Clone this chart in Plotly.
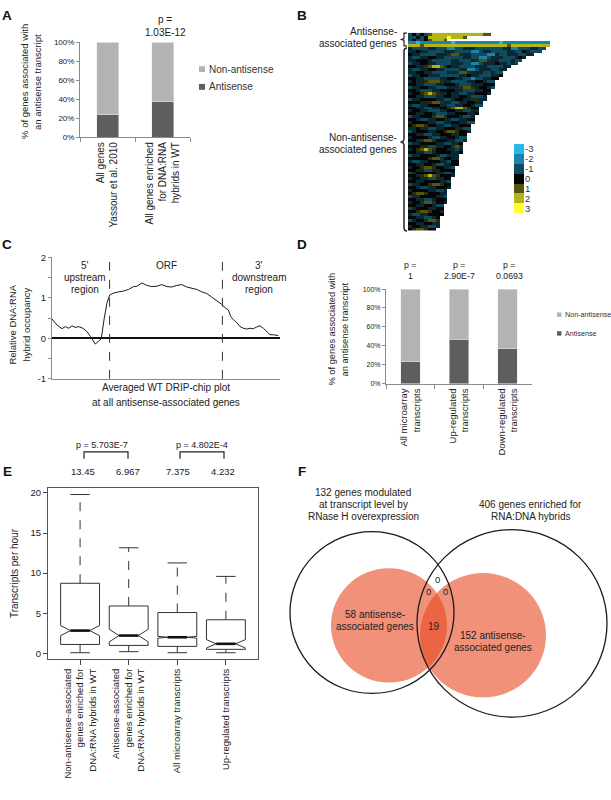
import plotly.graph_objects as go

W, H = 611, 800
FONT = "Liberation Sans, Arial, sans-serif"
TXT = "#222222"
LIGHT = "#B3B3B3"
DARK = "#5E5E5E"
AXIS = "#8A8A8A"

# panel A
a_cats = ["All genes<br>Yassour et al. 2010", "All genes enriched<br>for DNA:RNA<br>hybrids in WT"]
a_antisense = [0.236, 0.375]
a_pvalue = "1.03E-12"
key_labels = ["Non-antisense", "Antisense"]

# panel B: one string per gene row, codes below, spaces ignored
b_codes = {".": 0, "-": -0.5, "c": -1, "b": -2, "B": -3, "+": 0.5, "o": 1, "y": 2, "Y": 3}
b_rows = [
    "c.c.c oyyyy yyyyy yyyyo o",
    "cc.c. yyyyy Yyyyo",
    "c.cc. oyyyo",
    "bbBbb bbbbb bBbbb bbbbb bbbBb bbbbb bbbbb b",
    "yyyoy yyyyy yyyyy yyyyy yyyyy oyyyy yyyyy y",
    "-cccc --ccc bbcc- --ccc cccc- -bbcc c--cc",
    "--.-- cccc- --ccc cbbc- -cccc --cc. -ccc",
    ".--cc cc--- +oo+- -cccc bb-cc ---cc --",
    "-cc-- ..--c cccc- -ccbb c---c cc-.-",
    "--... -cccc c--cc c-+oo +--cc c-cc",
    "c--.. --ccc c---c cbbc- --.-- c-c",
    "..--+ oyyo+ .--cc cc--- cccc- -",
    "-cc-- ..--c ccc-- bbc-- -cc--",
    "--..- -cccc --+oo +---c c-cc",
    "c--.. ---cc ccc-- .--cc c--.",
    "..--c ccc-- ..--c cbcc- -..",
    "-.--+ ooo+- -cccc --..- cc",
    "..--c cc--. ..-cc c---. ..",
    "c--.. --ccc ---+o o+-.. -c",
    "..-cc c--.. ..--c cc--. .",
    "-..+o yo+-- .--cc --... -",
    "..--c cc--. .--.. -ccc-",
    "c--.. ..--c c-..- -++--",
    "...-- +oo+- -cc-- ..--",
    "-cc-- ...-- cc--. .-cc",
    "..--c c--.. +oyyo +..",
    "-..-- ccc-- ..--c c--",
    "..--. .-ccc --... --.",
    "c--.. .+oo+ ...-c c-",
    "..-cc --..- -cc-- ..",
    "-.... --cc- -..-- cc",
    ".+oo+ ..--c c--.. .",
    "--.-- cc--. ..--c c",
    "c-... --..+ oo+.. -",
    "..--c c--.. .--..",
    "-.... -cc-- ..-cc",
    "..-+o o+... --cc-",
    "c--.. ..--c c--.",
    "...-- cc--. .+o+",
    "-.+oy o+... --c-",
    "..--c c-... .--.",
    "c--.. ..-cc ---",
    "..... +oo+. .--",
    "-cc-- ...-- c..",
    "..--. .-cc- -..",
    "-..+o o+..- -c",
    "..--c c--.. ..",
    "c-... ..--c c-",
    "..-+o yo+.. .-",
    "-..-- cc--. .",
    "..--. ...-- c",
    "c--.. +oo+. .",
    "..-cc --... -",
    "-.... --cc-",
    ".+oo+ ...--",
    "c--.. ..--c",
    "..--c c-...",
    "-..+o o+..-",
    "..--. .-cc",
    "c-... --..",
    "..+oo +..-",
    "-cc-- ....",
    "..--c c-.",
    "c-..+ oo+",
    "..--. .--",
    "-..-- cc-",
    ".+oo+ ..",
]
b_levels = [-3, -2, -1, 0, 1, 2, 3]
b_colors = ["#2AB6E8", "#1B84AA", "#0F4B5F", "#050505", "#55550F", "#B4B41A", "#FFFF2E"]

# panel C: averaged profile, position along the metagene (arbitrary bins)
c_pos = [0, 15, 30, 40, 50, 60, 70, 80, 93, 105, 115, 125, 130, 140, 148, 157, 165, 173, 185, 200,
         215, 230, 245, 255, 270, 285, 300, 315, 330, 345, 360, 375, 390, 405, 420, 435, 450, 465, 480, 495,
         510, 520, 530, 537, 545, 555, 565, 575, 585, 595, 605, 615, 625, 635, 645, 655, 665, 680]
c_occ = [0.48, 0.33, 0.24, 0.29, 0.25, 0.31, 0.27, 0.29, 0.25, 0.17, 0.05, -0.07, -0.14, -0.07, -0.01, 0.50, 0.87, 1.07, 1.12, 1.15,
         1.17, 1.21, 1.28, 1.29, 1.37, 1.31, 1.28, 1.29, 1.33, 1.28, 1.27, 1.31, 1.33, 1.27, 1.24, 1.21, 1.15, 1.11, 1.02, 0.94,
         0.84, 0.76, 0.70, 0.54, 0.46, 0.39, 0.29, 0.25, 0.23, 0.25, 0.24, 0.28, 0.31, 0.25, 0.17, 0.09, 0.09, 0.07]
c_orf = [173, 512]

# panel D
d_cats = ["All microarray<br>transcripts", "Up-regulated<br>transcripts", "Down-regulated<br>transcripts"]
d_antisense = [0.231, 0.472, 0.372]
d_pvalues = ["1", "2.90E-7", "0.0693"]

# panel E
e_cats = ["Non-antisense-associated<br>genes enriched for<br>DNA:RNA hybrids in WT",
          "Antisense-associated<br>genes enriched for<br>DNA:RNA hybrids in WT",
          "All microarray transcripts", "Up-regulated transcripts"]
e_low = [0.07, 0.20, 0.07, 0.07]
e_q1 = [1.10, 0.98, 0.86, 0.49]
e_med = [2.83, 2.21, 2.00, 1.18]
e_q3 = [8.73, 5.90, 5.08, 4.18]
e_high = [19.8, 13.16, 11.27, 9.59]
e_notch = [0.63, 0.78, 0.11, 0.52]
e_means = ["13.45", "6.967", "7.375", "4.232"]
e_pvalues = ["p = 5.703E-7", "p = 4.802E-4"]

# panel F
f_set_left = ["132 genes modulated", "at transcript level by", "RNase H overexpression"]
f_set_right = ["406 genes enriched for", "RNA:DNA hybrids"]
f_left_only = ["58 antisense-", "associated genes"]
f_both = "19"
f_right_only = ["152 antisense-", "associated genes"]
f_zero = "0"


def dx(a, b):
    return [a / W, b / W]


def dy(top, bottom):
    return [1 - bottom / H, 1 - top / H]


fig = go.Figure()

# A
fig.add_trace(go.Bar(x=a_cats, y=a_antisense, name="Antisense", marker_color=DARK))
fig.add_trace(go.Bar(x=a_cats, y=[1 - v for v in a_antisense], name="Non-antisense", marker_color=LIGHT))

# B
b_cells = [[b_codes[ch] for ch in r.replace(" ", "")] for r in b_rows]
b_width = max(len(r) for r in b_cells)
b_z = [r + [None] * (b_width - len(r)) for r in b_cells]
heat_scale = [[(v + 3) / 6, c] for v, c in zip(b_levels, b_colors)]
fig.add_trace(go.Heatmap(z=b_z, x=list(range(b_width)), y=list(range(len(b_z))), colorscale=heat_scale,
                         zmin=-3, zmax=3, showscale=False, xaxis="x2", yaxis="y2", hoverinfo="skip"))
fig.add_trace(go.Heatmap(z=[[v] for v in b_levels], x=[0], y=b_levels, colorscale=heat_scale,
                         zmin=-3, zmax=3, showscale=False, xaxis="x3", yaxis="y3", hoverinfo="skip"))

# C
fig.add_trace(go.Scatter(x=c_pos, y=c_occ, mode="lines", line=dict(color="#1A1A1A", width=1),
                         xaxis="x4", yaxis="y4"))

# D
fig.add_trace(go.Bar(x=d_cats, y=d_antisense, name="Antisense", marker_color=DARK, xaxis="x5", yaxis="y5"))
fig.add_trace(go.Bar(x=d_cats, y=[1 - v for v in d_antisense], name="Non-antisense", marker_color=LIGHT,
                     xaxis="x5", yaxis="y5"))

# E
e_x = list(range(1, len(e_cats) + 1))
fig.add_trace(go.Box(x=e_x, q1=e_q1, median=e_med, q3=e_q3, lowerfence=e_q1, upperfence=e_q3,
                     notched=True, notchspan=e_notch, width=0.8, whiskerwidth=0, boxpoints=False,
                     fillcolor="white", line=dict(color="#333333", width=1),
                     xaxis="x6", yaxis="y6", hoverinfo="skip"))
wx, wy, cx, cy, mx, my = [], [], [], [], [], []
for p, lo, q1, m, q3, hi in zip(e_x, e_low, e_q1, e_med, e_q3, e_high):
    wx += [p, p, None, p, p, None]
    wy += [q3, hi, None, q1, lo, None]
    cx += [p - 0.2, p + 0.2, None, p - 0.2, p + 0.2, None]
    cy += [hi, hi, None, lo, lo, None]
    mx += [p - 0.2, p + 0.2, None]
    my += [m, m, None]
fig.add_trace(go.Scatter(x=wx, y=wy, mode="lines", line=dict(color="#333333", width=1, dash="dash"),
                         xaxis="x6", yaxis="y6", hoverinfo="skip"))
fig.add_trace(go.Scatter(x=cx, y=cy, mode="lines", line=dict(color="#333333", width=1),
                         xaxis="x6", yaxis="y6", hoverinfo="skip"))
fig.add_trace(go.Scatter(x=mx, y=my, mode="lines", line=dict(color="#111111", width=2.6),
                         xaxis="x6", yaxis="y6", hoverinfo="skip"))

# overlay axis in pixel units for text and drawings
fig.add_trace(go.Scatter(x=[], y=[], xaxis="x7", yaxis="y7"))

annotations = []
shapes = []


def note(x, y, text, size=10, angle=0, xanchor="center", bold=False, color=TXT):
    annotations.append(dict(x=x, y=y, xref="x7", yref="y7", text=f"<b>{text}</b>" if bold else text,
                            showarrow=False, textangle=angle, xanchor=xanchor, yanchor="middle",
                            font=dict(family=FONT, size=size, color=color)))


def block(x, y, lines, size=10, step=12.3, xanchor="center"):
    for k, line in enumerate(lines):
        note(x, y + k * step, line, size=size, xanchor=xanchor)


def vblock(x, y, lines, size=10, step=13):
    for k, line in enumerate(lines):
        note(x + k * step, y, line, size=size, angle=-90)


def key(x, y, box, size, step):
    for k, (lab, col) in enumerate(zip(key_labels, [LIGHT, DARK])):
        yc = y + k * step
        shapes.append(dict(type="rect", xref="x7", yref="y7", x0=x, x1=x + box, y0=yc - box / 2,
                           y1=yc + box / 2, fillcolor=col, line=dict(width=0)))
        note(x + box + 1.5, yc, lab, size=size, xanchor="left", color="#333333")


for lab, (x, y) in zip("ABCDEF", [(7, 10), (302, 10), (7, 242), (302, 242), (7, 472), (302, 472)]):
    note(x, y, lab, size=13.5, bold=True, color="#111111")

# A text
block(165, 14, ["p =", a_pvalue], size=10, step=13)
vblock(25, 77, ["% of genes associated with", "an antisense transcript"], size=9.5)
key(199, 64, 6, 10, 18)

# B text
block(399, 26, ["Antisense-", "associated genes"], xanchor="right")
block(399, 133, ["Non-antisense-", "associated genes"], xanchor="right")

# C text
block(85, 263, ["5'", "upstream", "region"])
note(166, 263, "ORF")
block(259, 263, ["3'", "downstream", "region"])
block(166, 387, ["Averaged WT DRIP-chip plot", "at all antisense-associated genes"], step=15)
vblock(13, 323, ["Relative DNA:RNA", "hybrid occupancy"], size=9.5, step=14)

# D text
for x, pv in zip([410, 459, 509], d_pvalues):
    block(x, 262.5, ["p =", pv], size=8.8, step=11)
vblock(332, 328, ["% of genes associated with", "an antisense transcript"], size=9.3)
key(557, 313, 4.5, 7.2, 19)

# E text
note(102, 445, e_pvalues[0], size=9)
note(202, 445, e_pvalues[1], size=9)
for x, v in zip([83, 128, 178, 223], e_means):
    note(x, 472, v, size=9.5)
vblock(14, 575, ["Transcripts per hour"], size=10)

# F text
block(363, 493, f_set_left)
block(530, 505, f_set_right)
block(375, 617, f_left_only)
note(434, 629, f_both)
block(493, 638, f_right_only)
note(437, 581, f_zero, size=9.5)
note(428, 594, f_zero, size=9.5)
note(445, 594, f_zero, size=9.5)

ink = dict(color="#222222", width=1.2)
# brackets in B
shapes.append(dict(type="path", xref="x7", yref="y7", line=ink,
                   path="M 407 27.5 L 404 27.5 L 404 33 L 401.5 34 L 404 35 L 404 40.5 L 407 40.5"))
shapes.append(dict(type="path", xref="x7", yref="y7", line=dict(color="#222222", width=1.5),
                   path="M 407 42.5 Q 404 42.5 404 46 L 404 134 Q 404 138 400.5 138 Q 404 138 404 142 "
                        "L 404 224.5 Q 404 228 407 228"))
# brackets in E
for a, b in [(84, 128), (180, 224)]:
    shapes.append(dict(type="path", xref="x7", yref="y7", line=ink,
                       path=f"M {a} 459 L {a} 452 L {b} 452 L {b} 459"))
# dashed region borders in C
for v in c_orf:
    shapes.append(dict(type="line", xref="x4", yref="y4 domain", x0=v, x1=v, y0=0, y1=1,
                       line=dict(color="#333333", width=1, dash="dash")))
# Venn in F
salmon = "rgba(231,72,33,0.6)"
for x0, y0, x1, y1 in [(331, 570, 447, 686), (420, 575, 546, 701)]:
    shapes.append(dict(type="circle", xref="x7", yref="y7", x0=x0, y0=y0, x1=x1, y1=y1,
                       fillcolor=salmon, line=dict(width=0)))
for x0, y0, x1, y1 in [(290, 533, 454, 697), (417, 531, 607, 721)]:
    shapes.append(dict(type="circle", xref="x7", yref="y7", x0=x0, y0=y0, x1=x1, y1=y1,
                       line=dict(color="#1A1A1A", width=1.3)))

hidden = dict(visible=False, showgrid=False, zeroline=False, fixedrange=True)


def bar_x(size):
    return dict(type="category", showline=True, linecolor=AXIS, ticks="outside", ticklen=4, tickcolor=AXIS,
                tickson="boundaries", tickangle=-90, showgrid=False,
                tickfont=dict(family=FONT, size=size, color=TXT))


def bar_y(size):
    return dict(range=[0, 1], tickvals=[0, 0.2, 0.4, 0.6, 0.8, 1], tickformat=".0%", showline=True,
                linecolor=AXIS, ticks="outside", ticklen=3, tickcolor=AXIS, showgrid=False, zeroline=False,
                tickfont=dict(family=FONT, size=size, color=TXT))


fig.update_layout(
    width=W, height=H, autosize=False, margin=dict(l=0, r=0, t=0, b=0),
    paper_bgcolor="white", plot_bgcolor="rgba(0,0,0,0)", showlegend=False,
    font=dict(family=FONT, color=TXT), barmode="stack", bargap=0.6,
    xaxis=dict(domain=dx(80, 190), range=[-0.5, 1.5], anchor="y", **bar_x(10)),
    yaxis=dict(domain=dy(37, 133), anchor="x", **bar_y(8)),
    xaxis2=dict(domain=dx(408, 550), range=[-0.5, b_width - 0.5], anchor="y2", **hidden),
    yaxis2=dict(domain=dy(27, 228), range=[len(b_z) - 0.5, -0.5], anchor="x2", **hidden),
    xaxis3=dict(domain=dx(514, 524), range=[-0.5, 0.5], anchor="y3", **hidden),
    yaxis3=dict(domain=dy(140, 210), range=[3.5, -3.5], anchor="x3", side="right", tickvals=b_levels,
                ticktext=[str(v) for v in b_levels], ticks="", showline=False, showgrid=False, zeroline=False,
                tickfont=dict(family=FONT, size=9.5, color="#333333")),
    xaxis4=dict(domain=dx(52, 280), range=[0, 685], anchor="y4", showline=True, linecolor=AXIS,
                showticklabels=False, ticks="", showgrid=False, zeroline=False),
    yaxis4=dict(domain=dy(255, 378), range=[-1, 2], anchor="x4", showline=True, linecolor=AXIS,
                tickvals=[-1, -0.5, 0, 0.5, 1, 1.5, 2], ticktext=["-1", "", "0", "", "1", "", "2"],
                ticks="outside", ticklen=3, tickcolor=AXIS, tickfont=dict(family=FONT, size=9.5, color=TXT),
                showgrid=False, zeroline=True, zerolinecolor="#111111", zerolinewidth=1.5),
    xaxis5=dict(domain=dx(386, 532), range=[-0.5, 2.5], anchor="y5", **bar_x(9.5)),
    yaxis5=dict(domain=dy(287, 383), anchor="x5", **bar_y(7)),
    xaxis6=dict(domain=dx(48, 258), range=[0.34, 4.66], anchor="y6", tickvals=e_x, ticktext=e_cats,
                tickangle=-90, ticks="outside", ticklen=5, tickcolor="#444444", showline=True,
                linecolor="#555555", mirror=True, showgrid=False, zeroline=False,
                tickfont=dict(family=FONT, size=9.5, color=TXT)),
    yaxis6=dict(domain=dy(489, 662), range=[-0.7, 20.58], anchor="x6", tickvals=[0, 5, 10, 15, 20],
                ticks="outside", ticklen=4, tickcolor="#444444", showline=True, linecolor="#555555",
                mirror=True, showgrid=False, zeroline=False, tickfont=dict(family=FONT, size=9.5, color=TXT)),
    xaxis7=dict(domain=[0, 1], range=[0, W], anchor="y7", **hidden),
    yaxis7=dict(domain=[0, 1], range=[H, 0], anchor="x7", **hidden),
    annotations=annotations, shapes=shapes,
)

# the page's default body margin would push the 611x800 figure out of the window
fig.write_html("out.html", config={"displayModeBar": False},
               post_script="document.body.style.margin = '0';")
